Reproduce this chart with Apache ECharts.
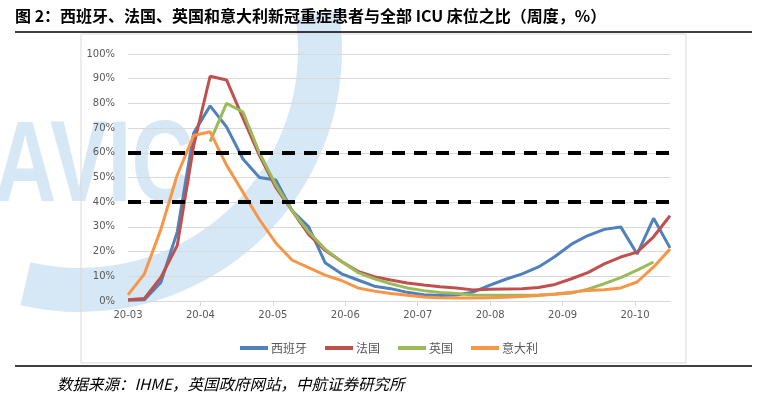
<!DOCTYPE html>
<html lang="zh-CN">
<head>
<meta charset="UTF-8">
<title>ICU床位占比</title>
<script src="https://cdn.jsdelivr.net/npm/echarts@6/dist/echarts.min.js"></script>
<style>
    html, body { margin: 0; padding: 0; background: #fff; }
    #main { width: 778px; height: 397px; }
</style>
</head>
<body>
<div id="main"></div>
<script>
    // 周度数据，从 2020 年 3 月初开始，每周一个点
    var weeks = [0, 1, 2, 3, 4, 5, 6, 7, 8, 9, 10, 11, 12, 13, 14, 15, 16,
        17, 18, 19, 20, 21, 22, 23, 24, 25, 26, 27, 28, 29, 30, 31, 32, 33];
    var monthLabels = ['20-03', '20-04', '20-05', '20-06', '20-07', '20-08', '20-09', '20-10'];
    var yTicks = [0, 10, 20, 30, 40, 50, 60, 70, 80, 90, 100];
    var thresholds = [40, 60];

    var spain = [0.3, 0.5, 7.5, 28, 68, 79, 70.5, 57.5, 50, 49, 36.5, 30, 15.5, 11, 8.5, 6, 5,
        3.5, 2.5, 2.2, 2.4, 3.6, 6.3, 8.8, 11, 13.8, 18, 23, 26.5, 29, 30, 19, 33.5, 21.5];
    var france = [0.5, 1, 9.5, 22.5, 63, 91, 89.5, 74, 59, 46, 36.5, 27, 20.5, 16, 12, 9.8, 8.5,
        7.3, 6.5, 5.8, 5.3, 4.5, 4.8, 4.9, 5, 5.5, 6.7, 9, 11.5, 15, 17.8, 19.8, 26, 34.5];
    var uk = [null, null, null, null, null, 64.5, 80, 76.5, 60, 47, 36.5, 28, 21, 16, 11.5, 9, 7,
        5.3, 4.2, 3.4, 3, 2.4, 2.3, 2.3, 2.3, 2.4, 2.7, 3.2, 4.8, 7, 9.5, 12.5, 15.8, null];
    var italy = [2.5, 11, 29, 51, 67, 68.5, 55, 44, 33, 23.5, 16.5, 13.5, 10.5, 8.3, 5.3, 4, 3,
        2.3, 1.6, 1.3, 1.2, 1.2, 1.3, 1.5, 1.8, 2.2, 2.8, 3.5, 4.3, 4.6, 5.3, 7.7, 13.8, 21];

    var names = ['西班牙', '法国', '英国', '意大利'];
    var colors = ['#4F81BD', '#C0504D', '#9BBB59', '#F79646'];
    var values = [spain, france, uk, italy];

    var monthStep = 4.41; // 每个月份刻度之间的周数

    var chart = echarts.init(document.getElementById('main'));

    var series = [];
    for (var s = 0; s < names.length; s++) {
        series.push({
            name: names[s],
            type: 'line',
            data: weeks.map(function (w, i) { return [w, values[s][i]]; }),
            showSymbol: false,
            symbol: 'none',
            smooth: false,
            connectNulls: false,
            lineStyle: { color: colors[s], width: 3 },
            itemStyle: { color: colors[s] }
        });
    }
    // 40% 和 60% 两条黑色虚线
    series[3].markLine = {
        silent: true,
        symbol: 'none',
        label: { show: false },
        lineStyle: { color: '#000', width: 4, type: [13, 9] },
        data: thresholds.map(function (t) { return { yAxis: t }; })
    };

    var axisFont = { color: '#595959', fontSize: 10, fontFamily: 'DejaVu Sans' };
    var wmColor = '#d6e8f6';

    var option = {
        animation: false,
        backgroundColor: '#fff',
        grid: { left: 128, right: 108, top: 54, bottom: 96 },
        xAxis: {
            type: 'value',
            min: 0,
            max: weeks[weeks.length - 1],
            interval: monthStep,
            axisLine: { lineStyle: { color: '#d9d9d9' } },
            axisTick: { show: true, length: 5, lineStyle: { color: '#d9d9d9' } },
            splitLine: { show: false },
            axisLabel: Object.assign({
                margin: 9,
                showMaxLabel: false,
                formatter: function (v) {
                    var k = Math.round(v / monthStep);
                    if (Math.abs(v - k * monthStep) > 0.05 || k >= monthLabels.length) return '';
                    return monthLabels[k];
                }
            }, axisFont)
        },
        yAxis: {
            type: 'value',
            min: yTicks[0],
            max: yTicks[yTicks.length - 1],
            interval: yTicks[1] - yTicks[0],
            axisLine: { show: false },
            axisTick: { show: false },
            splitLine: { lineStyle: { color: '#d9d9d9', width: 1 } },
            axisLabel: Object.assign({ margin: 13, formatter: '{value}%' }, axisFont)
        },
        legend: {
            data: names,
            top: 337,
            left: 'center',
            icon: 'rect',
            itemWidth: 28,
            itemHeight: 4,
            itemGap: 18,
            textStyle: { color: '#595959', fontSize: 12, fontFamily: 'Noto Sans CJK SC', padding: [0, 0, 0, -2] }
        },
        graphic: [
            // 背景水印
            {
                type: 'sector', z: -10, silent: true,
                shape: { cx: 80, cy: 50, r0: 218, r: 262, startAngle: -0.15, endAngle: 1.8, clockwise: true },
                style: { fill: wmColor }
            },
            {
                type: 'text', left: -6, top: 112, z: -10, silent: true, scaleX: 0.75,
                style: { text: 'AVIC', fontSize: 115, fontWeight: 'bold', fontFamily: 'Liberation Sans', fill: wmColor }
            },
            {
                type: 'rect', z: -5, silent: true,
                shape: { x: 81, y: 34, width: 605, height: 329 },
                style: { fill: 'none', stroke: '#d9d9d9', lineWidth: 1 }
            },
            {
                type: 'text', left: 15, top: 8,
                style: {
                    text: '图 2：西班牙、法国、英国和意大利新冠重症患者与全部 ICU 床位之比（周度，%）',
                    fontSize: 16, fontWeight: 'bold', fontFamily: 'Noto Sans CJK SC', fill: '#000'
                }
            },
            {
                type: 'line', silent: true,
                shape: { x1: 15, y1: 32, x2: 752, y2: 32 },
                style: { stroke: '#000', lineWidth: 1.5 }
            },
            {
                type: 'line', silent: true,
                shape: { x1: 15, y1: 366, x2: 752, y2: 366 },
                style: { stroke: '#000', lineWidth: 1.5 }
            },
            {
                type: 'text', left: 57, top: 376,
                style: {
                    text: '数据来源：IHME，英国政府网站，中航证券研究所',
                    fontSize: 15.5, fontStyle: 'italic', fontFamily: 'Noto Sans CJK SC', fill: '#000'
                }
            }
        ],
        series: series
    };
    chart.setOption(option);
</script>
</body>
</html>
